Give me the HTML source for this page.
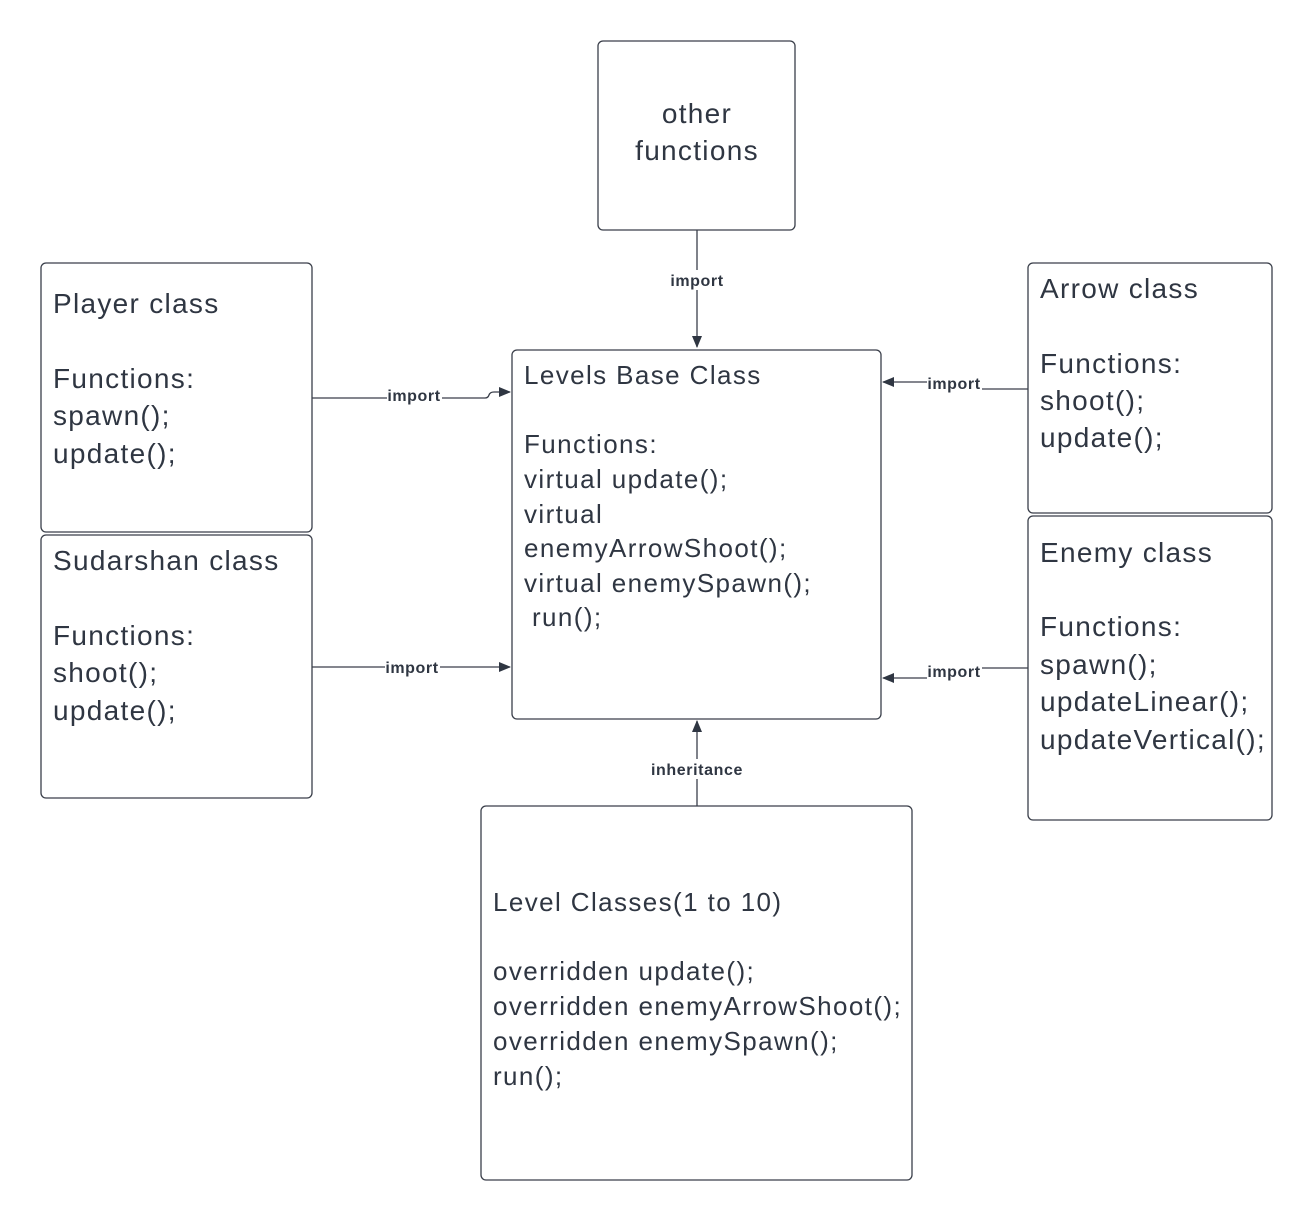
<!DOCTYPE html>
<html><head><style>body{margin:0;background:#fff}svg{display:block}</style></head><body>
<svg width="1313" height="1221" xmlns="http://www.w3.org/2000/svg" font-family="Liberation Sans, sans-serif" fill="#2f3642">
<defs><marker id="a" markerWidth="12" markerHeight="10" refX="11" refY="5" orient="auto" markerUnits="userSpaceOnUse"><path d="M0,0 L12,5 L0,10 Z" fill="#2f3642"/></marker></defs>
<g fill="none" stroke="#3a3f4a" stroke-width="1.3">
<rect x="598" y="41" width="197" height="189" rx="5"/>
<rect x="41" y="263" width="271" height="269" rx="5"/>
<rect x="41" y="535" width="271" height="263" rx="5"/>
<rect x="512" y="350" width="369" height="369" rx="5"/>
<rect x="1028" y="263" width="244" height="250" rx="5"/>
<rect x="1028" y="516" width="244" height="304" rx="5"/>
<rect x="481" y="806" width="431" height="374" rx="5"/>
<path d="M697,230 V347" marker-end="url(#a)"/>
<path d="M312,398 H485 q3,0 4,-3 q1,-3 5,-3 H510" marker-end="url(#a)"/>
<path d="M312,667 H510" marker-end="url(#a)"/>
<path d="M1028,389 H975 V382 H883" marker-end="url(#a)"/>
<path d="M1028,668 H975 V678 H883" marker-end="url(#a)"/>
<path d="M697,806 V721" marker-end="url(#a)"/>
</g>
<g font-size="16" font-weight="bold" text-anchor="middle" letter-spacing="0.6">
<rect x="668" y="270" width="58" height="20" fill="#fff"/><text x="697" y="286">import</text>
<rect x="387" y="386" width="55" height="20" fill="#fff"/><text x="414" y="401">import</text>
<rect x="385" y="657" width="55" height="20" fill="#fff"/><text x="412" y="673">import</text>
<rect x="927" y="373" width="55" height="20" fill="#fff"/><text x="954" y="389">import</text>
<rect x="927" y="661" width="55" height="20" fill="#fff"/><text x="954" y="677">import</text>
<rect x="645" y="759" width="104" height="20" fill="#fff"/><text x="697" y="775">inheritance</text>
</g>
<g font-size="28" letter-spacing="1.3">
<text x="697" y="123" text-anchor="middle">other</text>
<text x="697" y="160" text-anchor="middle">functions</text>
<text x="53" y="313">Player class</text>
<text x="53" y="388">Functions:</text>
<text x="53" y="425">spawn();</text>
<text x="53" y="463">update();</text>
<text x="53" y="570">Sudarshan class</text>
<text x="53" y="645">Functions:</text>
<text x="53" y="682">shoot();</text>
<text x="53" y="720">update();</text>
<text x="1040" y="298">Arrow class</text>
<text x="1040" y="373">Functions:</text>
<text x="1040" y="410">shoot();</text>
<text x="1040" y="447">update();</text>
<text x="1040" y="562">Enemy class</text>
<text x="1040" y="636">Functions:</text>
<text x="1040" y="674">spawn();</text>
<text x="1040" y="711">updateLinear();</text>
<text x="1040" y="749">updateVertical();</text>
</g>
<g font-size="26" letter-spacing="1.4">
<text x="524" y="384">Levels Base Class</text>
<text x="524" y="453">Functions:</text>
<text x="524" y="488">virtual update();</text>
<text x="524" y="523">virtual</text>
<text x="524" y="557">enemyArrowShoot();</text>
<text x="524" y="592">virtual enemySpawn();</text>
<text x="532" y="626">run();</text>
<text x="493" y="911">Level Classes(1 to 10)</text>
<text x="493" y="980">overridden update();</text>
<text x="493" y="1015">overridden enemyArrowShoot();</text>
<text x="493" y="1050">overridden enemySpawn();</text>
<text x="493" y="1085">run();</text>
</g>
</svg>
</body></html>
